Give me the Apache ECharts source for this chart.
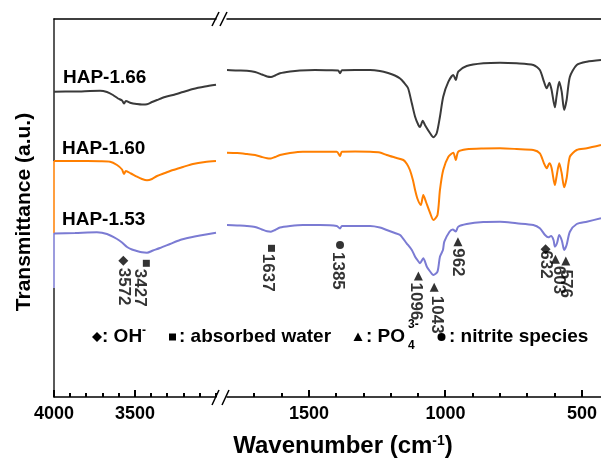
<!DOCTYPE html>
<html>
<head>
<meta charset="utf-8">
<title>FTIR HAP</title>
<script src="https://cdn.jsdelivr.net/npm/echarts@6/dist/echarts.min.js"></script>
<style>
html, body { margin: 0; padding: 0; background: #fff; }
#chart { width: 601px; height: 459px; }
</style>
</head>
<body>
<div id="chart"></div>
<script>
// 光谱数据 [波数, 透过率(任意单位)]
// 左段 4000-3000 cm-1
var hap166Left = [[4000,305.3],[3870,305.5],[3716,306.3],[3673,305],[3636,302],[3605,298.5],[3580,296.5],[3568,293.5],[3556,296],[3525,294],[3488,293],[3457,292.5],[3426,292.7],[3395,295],[3364,297],[3315,300],[3265,302],[3204,305],[3142,308],[3068,310.5],[3000,312.3]];
var hap160Left = [[4000,236],[3870,236],[3716,235.7],[3654,235.3],[3611,232],[3580,227.5],[3568,223],[3556,226],[3525,223.5],[3488,220.3],[3457,218],[3426,216.7],[3395,218],[3364,221],[3315,224],[3265,227],[3204,230],[3142,233],[3068,235],[3000,236]];
var hap153Left = [[4000,163.5],[3870,164],[3735,164.7],[3673,163],[3611,158],[3580,154.5],[3549,150],[3519,147.5],[3488,146],[3457,144.7],[3426,144.3],[3389,146.5],[3346,149],[3284,153],[3222,157],[3160,159.5],[3099,161.5],[3000,164.3]];
// 右段 1800-430 cm-1
var hap166Right = [[1800,327],[1763,326.5],[1727,326.3],[1697,325],[1672,322.5],[1653,320.5],[1639,320],[1624,321.5],[1606,323.7],[1569,325.5],[1533,326.5],[1478,327],[1423,326.7],[1393,326.5],[1386,323.7],[1379,326.7],[1331,327],[1276,327],[1240,326],[1210,324],[1185,321.5],[1166,318.5],[1152,314.5],[1137,309],[1123,293.7],[1111,280.3],[1099,272],[1093,270],[1083,276.3],[1075,272],[1056,263.7],[1044,259.7],[1032,263.7],[1020,280.3],[1008,300.3],[989,315.3],[971,322],[962,317],[953,325.3],[922,331],[861,333.7],[800,334.3],[739,333.7],[678,332],[654,327],[639,315.3],[629,308.7],[619,314.3],[611,307],[599,289.7],[593,300.3],[583,315.3],[574,305.3],[565,287],[556,297],[544,320.3],[519,332],[482,335.3],[430,337]];
var hap160Right = [[1800,244.3],[1763,244],[1727,243],[1697,242],[1672,240],[1653,238.7],[1639,238.5],[1624,240],[1606,242],[1569,244],[1522,245.3],[1459,245.3],[1398,245.3],[1386,241],[1379,245.3],[1331,245.5],[1276,245.3],[1240,244.5],[1215,242],[1185,239.5],[1154,237],[1141,233],[1130,227],[1119,217],[1111,207],[1102,198],[1090,192],[1081,202],[1071,195],[1056,184],[1044,177],[1029,182],[1020,207],[1008,227],[989,240.3],[971,244.3],[962,237],[953,245.3],[922,247.7],[861,248.5],[800,248.7],[739,248],[678,247],[654,243.7],[639,233.7],[629,228.7],[619,233.7],[611,229],[599,212],[593,220.3],[583,233.7],[574,223.7],[565,209.7],[556,218.7],[544,240.3],[519,247],[482,248.7],[430,252]];
var hap153Right = [[1800,172],[1763,171.5],[1727,171],[1697,170],[1672,167.5],[1653,165.7],[1639,165.3],[1624,167],[1606,169.5],[1569,171],[1522,172],[1459,172],[1398,171],[1386,168.5],[1379,171],[1331,171],[1276,171],[1240,169.5],[1215,167],[1185,164],[1166,162],[1142,153.7],[1123,147],[1111,140.3],[1100,136],[1093,133.7],[1081,138.7],[1068,130.3],[1056,125.5],[1044,122],[1029,125.3],[1020,140.3],[1009,147],[1004,155.3],[985,165.3],[973,167.5],[962,165.5],[953,170.3],[922,173],[861,175],[800,175.3],[739,173.7],[678,172],[654,168.7],[635,162],[623,159.7],[613,161],[604,157],[599,150.3],[591,154],[583,162],[573,156],[565,147],[556,152],[544,165.3],[519,173],[482,175.3],[430,178.7]];

// 峰位标注
var markLeftWn = [3572, 3430];
var markLeftVal = [136.3, 133.7];
var markLeftSym = ['diamond', 'rect'];
var markLeftText = ['3572', '3427'];
var markRightWn = [1637, 1386, 1099, 1041, 954, 633, 597, 559];
var markRightVal = [148.7, 152, 121, 109.7, 155.3, 147.7, 137.7, 136];
var markRightSym = ['rect', 'circle', 'triangle', 'triangle', 'triangle', 'diamond', 'triangle', 'triangle'];
var markRightText = ['1637', '1385', '1096', '1043', '962', '632', '603', '576'];

// 刻度与刻度标签
var leftTickLabels = [3500, 4000];
var rightTickLabels = [500, 1000, 1500];
var leftMinorTicks = [3000, 3100, 3200, 3300, 3400, 3600, 3700, 3800, 3900];
var rightMinorTicks = [600, 700, 800, 900, 1100, 1200, 1300, 1400, 1600, 1700];

var FONT = '"Liberation Sans", Arial, sans-serif';
var C_BLACK = '#3a3a3a';
var C_ORANGE = '#ff7f00';
var C_BLUE = '#7b7bd3';

// 标注的样式（符号大小、标签微调）
var symSize = { diamond: 10, rect: 7, triangle: 9, circle: 8 };
var leftNudge = [[0, 0], [0, 7]];
var rightNudge = [[0, 4], [1, 2], [0, 2.5], [2, -2], [0, 0], [-6, 0], [0, -3], [2, 0]];

function markData(wn, val, sym, text, nudge) {
	var out = [];
	for (var i = 0; i < wn.length; i++) {
		out.push({
			name: text[i],
			value: [wn[i], val[i]],
			symbol: sym[i],
			symbolSize: symSize[sym[i]],
			label: { offset: nudge[i] }
		});
	}
	return out;
}

var markLabel = {
	show: true,
	position: 'bottom',
	distance: 2,
	rotate: -90,
	align: 'left',
	verticalAlign: 'middle',
	formatter: '{b}',
	color: '#000',
	fontFamily: FONT,
	fontWeight: 'bold',
	fontSize: 17
};

var axisLineStyle = { color: '#000', width: 1.5 };

// 每段横轴：底轴线+标签、顶边框
function segAxes(grid, min, max, labels) {
	return [{
		gridIndex: grid, type: 'value', position: 'bottom',
		min: min, max: max, interval: 100, inverse: true,
		axisLine: { show: true, onZero: false, lineStyle: axisLineStyle },
		axisTick: { show: false },
		axisLabel: {
			show: true,
			color: '#000',
			fontFamily: FONT,
			fontWeight: 'bold',
			fontSize: 18,
			margin: 8,
			formatter: function (v) {
				return labels.indexOf(v) >= 0 ? String(v) : '';
			}
		},
		splitLine: { show: false }
	}, {
		gridIndex: grid, type: 'value', position: 'top',
		min: min, max: max, inverse: true,
		axisLine: { show: true, onZero: false, lineStyle: axisLineStyle },
		axisTick: { show: false },
		axisLabel: { show: false },
		splitLine: { show: false }
	}];
}

function lineSeries(name, data, color, xi, yi) {
	return {
		name: name,
		type: 'line',
		xAxisIndex: xi,
		yAxisIndex: yi,
		data: data,
		showSymbol: false,
		smooth: 0.25,
		lineStyle: { color: color, width: 2 },
		itemStyle: { color: color },
		silent: true
	};
}

// 左侧 y 轴分段着色（Origin 多层叠放效果）
var yLineColor = new echarts.graphic.LinearGradient(0, 0, 0, 1, [
	{ offset: 0, color: '#222' }, { offset: 0.376, color: '#222' },
	{ offset: 0.376, color: C_ORANGE }, { offset: 0.564, color: C_ORANGE },
	{ offset: 0.564, color: C_BLUE }, { offset: 0.709, color: C_BLUE },
	{ offset: 0.709, color: '#222' }, { offset: 1, color: '#222' }
]);

var chart = echarts.init(document.getElementById('chart'));

var option = {
	animation: false,
	backgroundColor: '#fff',
	grid: [
		{ left: 54, top: 19, width: 162, height: 378, outerBoundsMode: 'none', containLabel: false },
		{ left: 227, top: 19, width: 382.2, height: 378, outerBoundsMode: 'none', containLabel: false }
	],
	xAxis: segAxes(0, 3000, 4000, leftTickLabels).concat(segAxes(1, 400, 1800, rightTickLabels)),
	yAxis: [{
		gridIndex: 0, type: 'value', min: 0, max: 378,
		axisLine: { show: true, lineStyle: { color: yLineColor, width: 1.5 } },
		axisTick: { show: false },
		axisLabel: { show: false },
		splitLine: { show: false }
	}, {
		gridIndex: 1, type: 'value', min: 0, max: 378, show: false,
		splitLine: { show: false }
	}],
	series: [
		lineSeries('HAP-1.66', hap166Left, C_BLACK, 0, 0),
		lineSeries('HAP-1.60', hap160Left, C_ORANGE, 0, 0),
		lineSeries('HAP-1.53', hap153Left, C_BLUE, 0, 0),
		lineSeries('HAP-1.66', hap166Right, C_BLACK, 2, 1),
		lineSeries('HAP-1.60', hap160Right, C_ORANGE, 2, 1),
		lineSeries('HAP-1.53', hap153Right, C_BLUE, 2, 1),
		{
			type: 'scatter', xAxisIndex: 0, yAxisIndex: 0, silent: true, z: 5,
			itemStyle: { color: '#000' },
			label: markLabel,
			data: markData(markLeftWn, markLeftVal, markLeftSym, markLeftText, leftNudge)
		},
		{
			type: 'scatter', xAxisIndex: 2, yAxisIndex: 1, silent: true, z: 5,
			itemStyle: { color: '#000' },
			label: markLabel,
			data: markData(markRightWn, markRightVal, markRightSym, markRightText, rightNudge)
		}
	],
	graphic: [
		// 样品名称
		{ type: 'text', x: 63, y: 78, style: { text: 'HAP-1.66', font: 'bold 19px ' + FONT, fill: '#000', verticalAlign: 'middle' } },
		{ type: 'text', x: 62, y: 149, style: { text: 'HAP-1.60', font: 'bold 19px ' + FONT, fill: '#000', verticalAlign: 'middle' } },
		{ type: 'text', x: 62, y: 220, style: { text: 'HAP-1.53', font: 'bold 19px ' + FONT, fill: '#000', verticalAlign: 'middle' } },
		// 轴标题
		{ type: 'text', x: 24, y: 212, rotation: Math.PI / 2, style: { text: 'Transmittance (a.u.)', font: 'bold 21px ' + FONT, fill: '#000', align: 'center', verticalAlign: 'middle' } },
		{
			type: 'text', x: 343, y: 446,
			style: {
				text: '{a|Wavenumber (cm}{s|-1}{a|)}',
				align: 'center', verticalAlign: 'middle', fill: '#000',
				rich: {
					a: { font: 'bold 24px ' + FONT, verticalAlign: 'bottom', fill: '#000' },
					s: { font: 'bold 14px ' + FONT, verticalAlign: 'top', fill: '#000' }
				}
			}
		},
		// 断轴符号
		{ type: 'line', shape: { x1: 212, y1: 26, x2: 219, y2: 12 }, style: { stroke: '#000', lineWidth: 1.5 } },
		{ type: 'line', shape: { x1: 220, y1: 26, x2: 227, y2: 12 }, style: { stroke: '#000', lineWidth: 1.5 } },
		{ type: 'line', shape: { x1: 212, y1: 405, x2: 219, y2: 390 }, style: { stroke: '#000', lineWidth: 1.5 } },
		{ type: 'line', shape: { x1: 222, y1: 405, x2: 229, y2: 390 }, style: { stroke: '#000', lineWidth: 1.5 } },
		// 图例说明
		{ type: 'polygon', shape: { points: [[97, 332], [102, 337], [97, 342], [92, 337]] }, style: { fill: '#000' } },
		{ type: 'text', x: 102, y: 337, style: { text: ': OH', font: 'bold 19px ' + FONT, fill: '#000', verticalAlign: 'middle' } },
		{ type: 'text', x: 142, y: 331, style: { text: '-', font: 'bold 12px ' + FONT, fill: '#000', verticalAlign: 'middle' } },
		{ type: 'rect', shape: { x: 169, y: 333.5, width: 7, height: 7 }, style: { fill: '#000' } },
		{ type: 'text', x: 179, y: 337, style: { text: ': absorbed water', font: 'bold 19px ' + FONT, fill: '#000', verticalAlign: 'middle' } },
		{ type: 'polygon', shape: { points: [[358, 332.5], [362.5, 341], [353.5, 341]] }, style: { fill: '#000' } },
		{ type: 'text', x: 366, y: 337, style: { text: ': PO', font: 'bold 19px ' + FONT, fill: '#000', verticalAlign: 'middle' } },
		{ type: 'text', x: 408, y: 325, style: { text: '3-', font: 'bold 12px ' + FONT, fill: '#000', verticalAlign: 'middle' } },
		{ type: 'text', x: 408, y: 346, style: { text: '4', font: 'bold 12px ' + FONT, fill: '#000', verticalAlign: 'middle' } },
		{ type: 'circle', shape: { cx: 441.5, cy: 337, r: 4 }, style: { fill: '#000' } },
		{ type: 'text', x: 449, y: 337, style: { text: ': nitrite species', font: 'bold 19px ' + FONT, fill: '#000', verticalAlign: 'middle' } }
	]
};

chart.setOption(option);

// 朝内刻度线：位置由横轴换算，画在上层
function tickLines(values, len, xi) {
	return values.map(function (v) {
		var px = chart.convertToPixel({ xAxisIndex: xi }, v);
		var x = Math.round(px);
		return {
			type: 'rect',
			zlevel: 1,
			z: 100,
			shape: { x: x - 1, y: 397 - len, width: 2, height: len },
			style: { fill: '#000' }
		};
	});
}

var ticks = []
	.concat(tickLines(leftMinorTicks, 4, 0))
	.concat(tickLines(leftTickLabels, 7, 0))
	.concat(tickLines(rightMinorTicks, 4, 2))
	.concat(tickLines(rightTickLabels, 7, 2));

chart.setOption({ graphic: option.graphic.concat(ticks) });
</script>
</body>
</html>
